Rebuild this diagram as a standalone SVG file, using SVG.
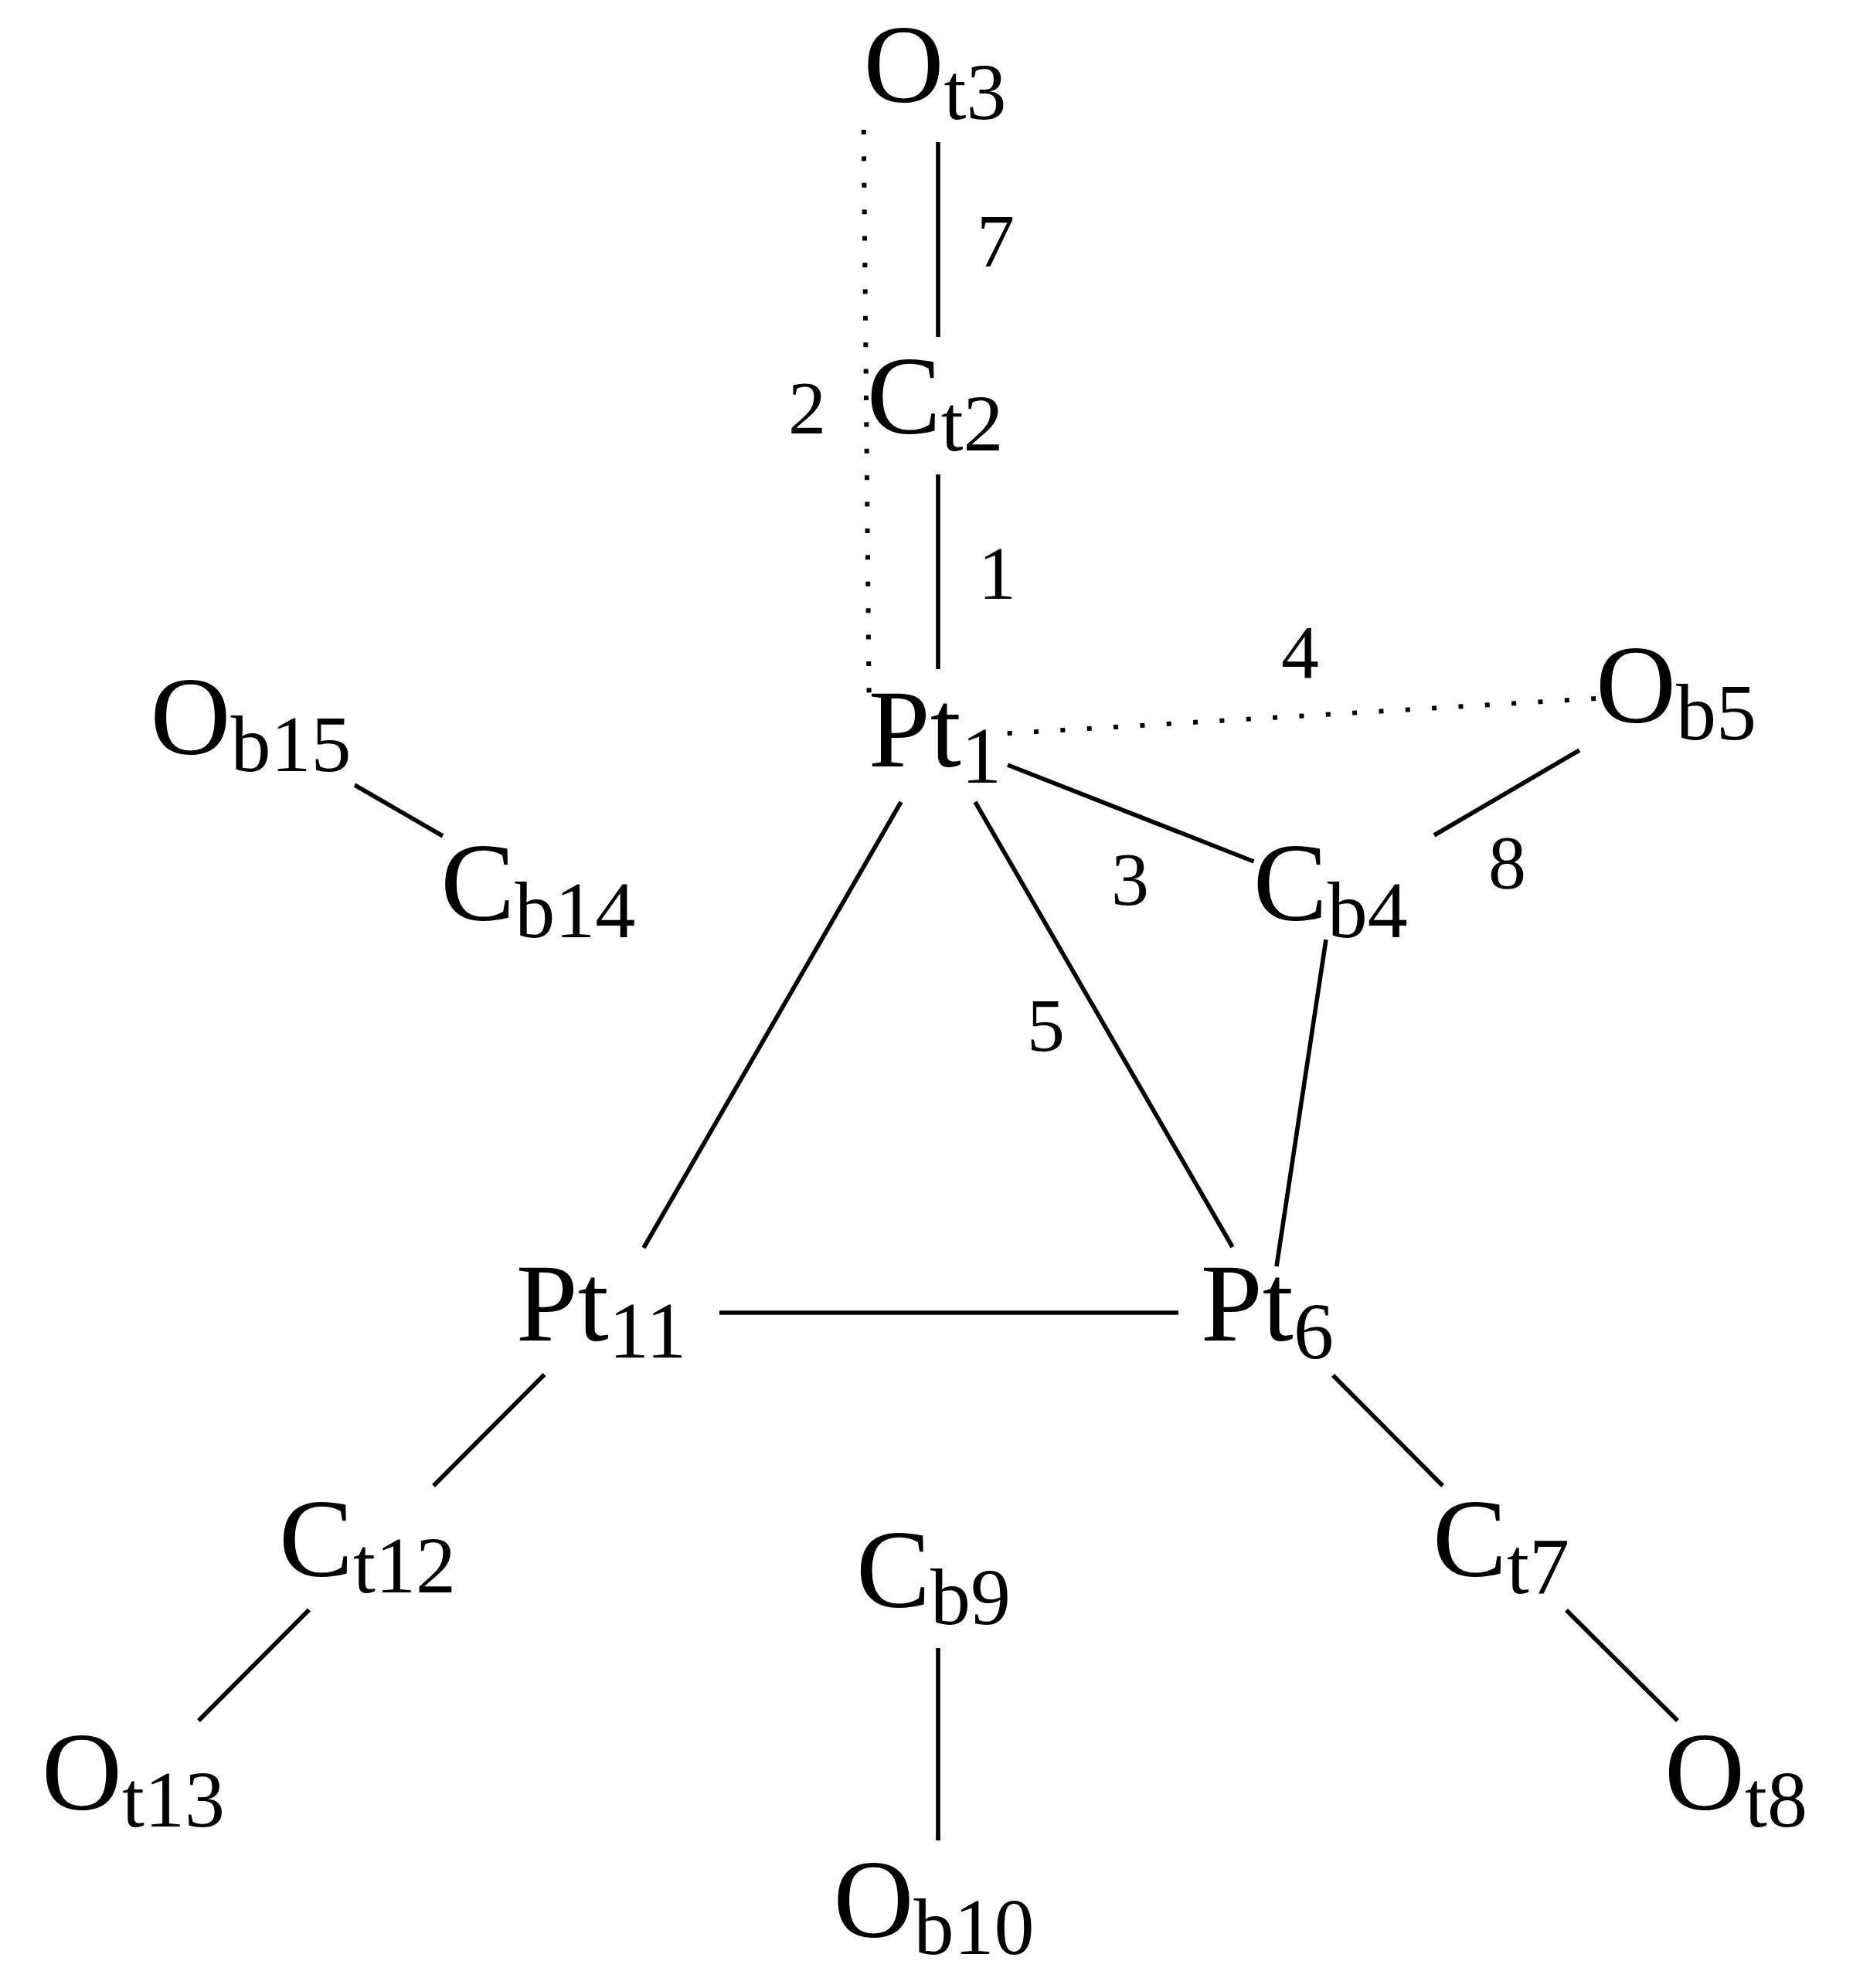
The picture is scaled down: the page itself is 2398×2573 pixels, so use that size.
<svg xmlns="http://www.w3.org/2000/svg" width="2398" height="2573" viewBox="0 0 2398 2573">
<style>
text{font-family:"Liberation Serif","Times New Roman",serif;fill:#000}
.n{font-size:144px}
.s{font-size:104px}
.l{font-size:98px}
#connectors line{stroke:#000;stroke-width:5.6;fill:none}
#connectors .d{stroke-width:6;stroke-dasharray:6 28.4}
</style>
<rect width="2398" height="2573" fill="#fff"/>
<g id="connectors">
<line x1="1214" y1="184" x2="1214" y2="436"/>
<line x1="1214" y1="614" x2="1214" y2="866"/>
<line class="d" x1="1117.7" y1="168" x2="1124.6" y2="897"/>
<line class="d" x1="1303.7" y1="949.2" x2="2066" y2="904"/>
<line x1="1304" y1="990" x2="1622.5" y2="1115"/>
<line x1="2044" y1="971" x2="1856" y2="1081"/>
<line x1="1716" y1="1216" x2="1652" y2="1639"/>
<line x1="1262" y1="1038" x2="1595" y2="1614"/>
<line x1="1166" y1="1038" x2="833" y2="1615"/>
<line x1="931" y1="1699" x2="1525" y2="1699"/>
<line x1="459" y1="1016" x2="573" y2="1082"/>
<line x1="704.5" y1="1779" x2="561" y2="1923"/>
<line x1="400" y1="2083.5" x2="257" y2="2227"/>
<line x1="1214" y1="2133" x2="1214" y2="2382"/>
<line x1="1725" y1="1780" x2="1867" y2="1923"/>
<line x1="2027" y1="2084" x2="2171" y2="2227"/>
</g>
<g id="labels">
<text class="l" x="1264" y="345">7</text>
<text class="l" x="1020" y="561">2</text>
<text class="l" x="1266" y="775">1</text>
<text class="l" x="1658" y="877">4</text>
<text class="l" x="1438" y="1171">3</text>
<text class="l" x="1926" y="1149">8</text>
<text class="l" x="1329" y="1360">5</text>
</g>
<g id="Ot3"><text class="n" x="1117.5" y="132">O</text><text class="s" x="1221.5" y="153.6">t3</text></g>
<g id="Ct2"><text class="n" x="1121.7" y="561">C</text><text class="s" x="1217.7" y="582.7">t2</text></g>
<g id="Pt1"><text class="n" x="1123.7" y="991.7">Pt</text><text class="s" x="1244" y="1013.3">1</text></g>
<g id="Ob5"><text class="n" x="2065" y="935">O</text><text class="s" x="2169" y="956.6">b5</text></g>
<g id="Ob15"><text class="n" x="194.4" y="976">O</text><text class="s" x="298.4" y="998">b15</text></g>
<g id="Cb14"><text class="n" x="570.3" y="1191">C</text><text class="s" x="666.3" y="1213">b14</text></g>
<g id="Cb4"><text class="n" x="1621.7" y="1191">C</text><text class="s" x="1717.7" y="1213">b4</text></g>
<g id="Pt11"><text class="n" x="667.7" y="1735.3">Pt</text><text class="s" x="788" y="1757.3">11</text></g>
<g id="Pt6"><text class="n" x="1553.7" y="1735">Pt</text><text class="s" x="1674" y="1757.5">6</text></g>
<g id="Ct12"><text class="n" x="361" y="2039.7">C</text><text class="s" x="457" y="2061">t12</text></g>
<g id="Cb9"><text class="n" x="1108" y="2080">C</text><text class="s" x="1204" y="2101.5">b9</text></g>
<g id="Ct7"><text class="n" x="1854" y="2040">C</text><text class="s" x="1950" y="2061.5">t7</text></g>
<g id="Ot13"><text class="n" x="54" y="2342">O</text><text class="s" x="158" y="2363.6">t13</text></g>
<g id="Ob10"><text class="n" x="1078.4" y="2507.3">O</text><text class="s" x="1182.4" y="2529">b10</text></g>
<g id="Ot8"><text class="n" x="2154" y="2342">O</text><text class="s" x="2258" y="2363.6">t8</text></g>
</svg>
